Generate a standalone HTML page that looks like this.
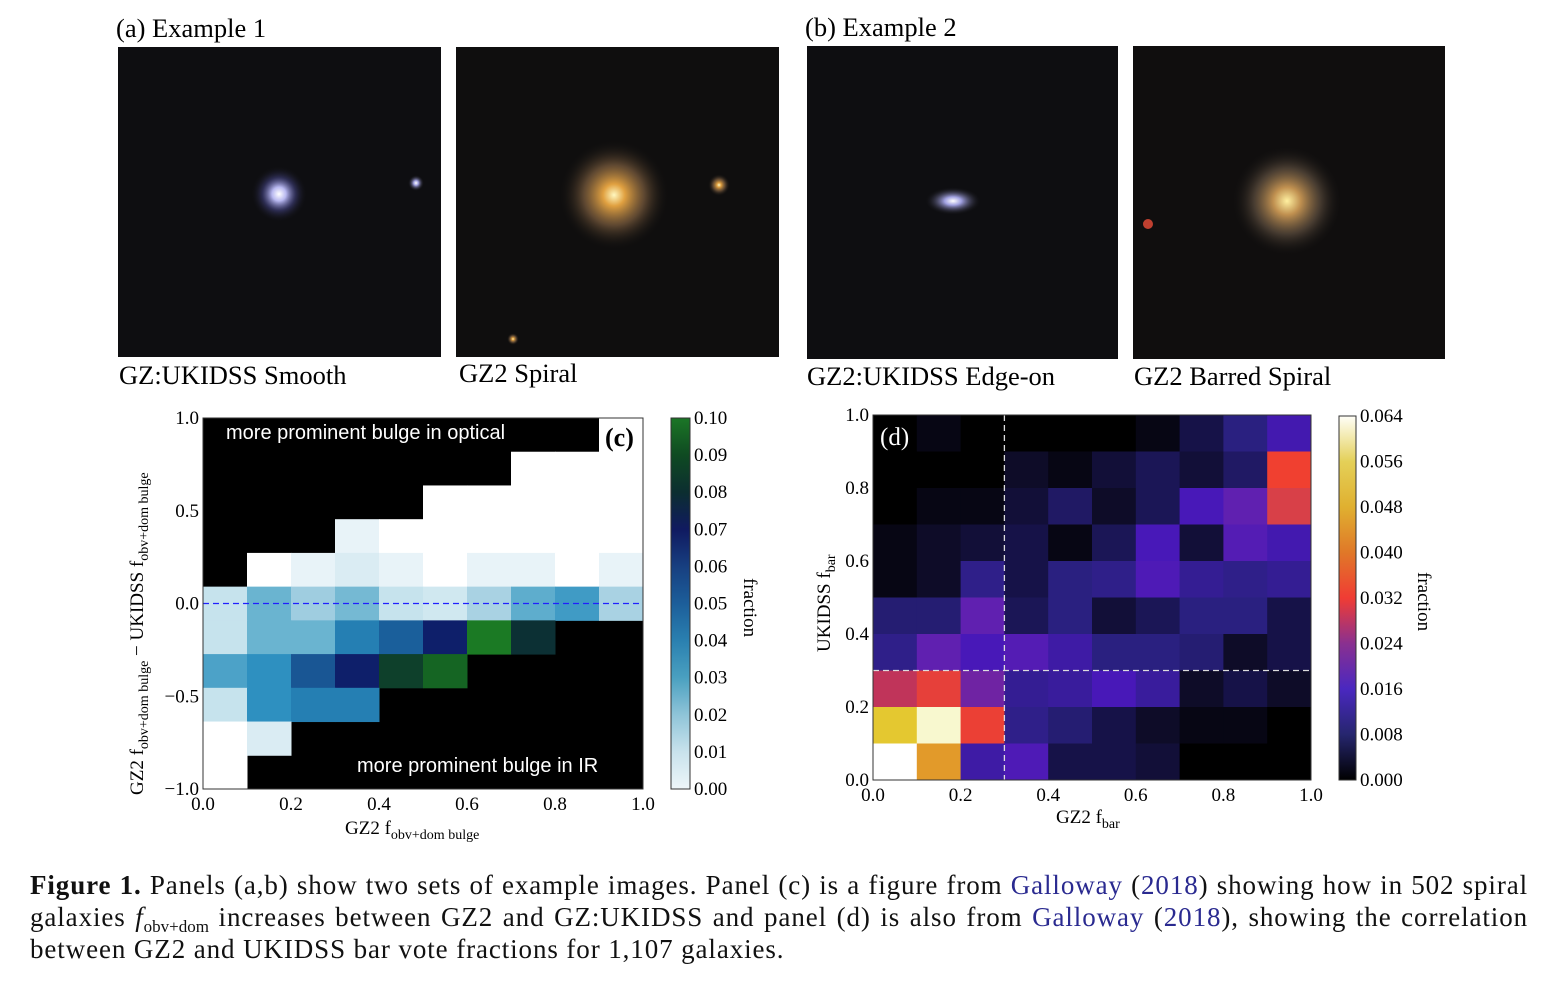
<!DOCTYPE html>
<html><head><meta charset="utf-8">
<style>
body{margin:0;background:#fff;width:1554px;height:1000px;overflow:hidden;font-family:"Liberation Serif",serif;}
svg{position:absolute;left:0;top:0}
.cap{position:absolute;left:30px;top:869px;width:1498px;font-size:27px;letter-spacing:0.9px;line-height:32px;color:#111;}
.cap div{text-align:justify;text-align-last:justify;white-space:nowrap;}
.cap div.last{text-align-last:left}
.cap a{color:#2a2a90;text-decoration:none}
.cap sub{font-size:17px;letter-spacing:0;line-height:0;vertical-align:baseline;position:relative;top:6px}
</style></head><body>
<svg id="fig" width="1554" height="1000" xmlns="http://www.w3.org/2000/svg" font-family="Liberation Serif, serif">
<defs>
<radialGradient id="g1"><stop offset="0" stop-color="#fff"/><stop offset="0.25" stop-color="#b8b8f0"/><stop offset="0.6" stop-color="#4a4a90" stop-opacity="0.5"/><stop offset="1" stop-color="#111" stop-opacity="0"/></radialGradient>
<radialGradient id="g2"><stop offset="0" stop-color="#fff8c0"/><stop offset="0.2" stop-color="#e0a040"/><stop offset="0.55" stop-color="#806040" stop-opacity="0.7"/><stop offset="1" stop-color="#111" stop-opacity="0"/></radialGradient>
<radialGradient id="g3"><stop offset="0" stop-color="#fff"/><stop offset="0.3" stop-color="#a0a0e0"/><stop offset="1" stop-color="#111" stop-opacity="0"/></radialGradient>
<radialGradient id="g4"><stop offset="0" stop-color="#fff0a0"/><stop offset="0.25" stop-color="#c09050"/><stop offset="0.6" stop-color="#605040" stop-opacity="0.7"/><stop offset="1" stop-color="#111" stop-opacity="0"/></radialGradient>
<linearGradient id="cbc" x1="0" y1="1" x2="0" y2="0">
<stop offset="0" stop-color="#eef6f9"/><stop offset="0.1" stop-color="#c8e2ec"/><stop offset="0.2" stop-color="#8fc4d8"/><stop offset="0.3" stop-color="#4aa0c0"/><stop offset="0.4" stop-color="#2a80b0"/><stop offset="0.5" stop-color="#1c5e9a"/><stop offset="0.6" stop-color="#173f80"/><stop offset="0.7" stop-color="#101a60"/><stop offset="0.8" stop-color="#0c2e30"/><stop offset="0.9" stop-color="#0f4a22"/><stop offset="1" stop-color="#1b7626"/></linearGradient>
<linearGradient id="cbd" x1="0" y1="1" x2="0" y2="0">
<stop offset="0" stop-color="#000"/><stop offset="0.125" stop-color="#26266e"/><stop offset="0.25" stop-color="#4a28c0"/><stop offset="0.375" stop-color="#8a3090"/><stop offset="0.5" stop-color="#f03c34"/><stop offset="0.625" stop-color="#e07828"/><stop offset="0.75" stop-color="#e0b030"/><stop offset="0.875" stop-color="#e4d058"/><stop offset="1" stop-color="#fffff8"/></linearGradient>
</defs>
<text x="116" y="37" font-size="26.5">(a) Example 1</text>
<text x="805" y="36" font-size="26.5">(b) Example 2</text>
<g><rect x="118" y="47" width="323" height="310" fill="#0e0e11"/><circle cx="279" cy="194" r="28" fill="url(#g1)"/><circle cx="416" cy="183" r="8" fill="url(#g3)"/></g>
<g><rect x="456" y="47" width="323" height="310" fill="#0f0e0e"/><circle cx="614" cy="195" r="55" fill="url(#g2)"/><circle cx="719" cy="185" r="11" fill="url(#g2)"/><circle cx="513" cy="339" r="6" fill="url(#g2)"/></g>
<g><rect x="807" y="46" width="311" height="313" fill="#0e0e11"/><ellipse cx="953" cy="201" rx="28" ry="14" fill="url(#g3)"/></g>
<g><rect x="1133" y="46" width="312" height="313" fill="#100e0e"/><circle cx="1287" cy="201" r="55" fill="url(#g4)"/><circle cx="1148" cy="224" r="5" fill="#c04030"/></g>
<text x="119" y="384" font-size="26.5">GZ:UKIDSS Smooth</text>
<text x="459" y="382" font-size="26.5">GZ2 Spiral</text>
<text x="807" y="385" font-size="26.5">GZ2:UKIDSS Edge-on</text>
<text x="1134" y="385" font-size="26.5">GZ2 Barred Spiral</text>
<g id="pc"></g>
<g id="pd"></g>
</svg>
<div class="cap">
<div><b>Figure 1.</b> Panels (a,b) show two sets of example images. Panel (c) is a figure from <a>Galloway</a> (<a>2018</a>) showing how in 502 spiral</div>
<div>galaxies <i>f</i><sub>obv+dom</sub> increases between GZ2 and GZ:UKIDSS and panel (d) is also from <a>Galloway</a> (<a>2018</a>), showing the correlation</div>
<div class="last">between GZ2 and UKIDSS bar vote fractions for 1,107 galaxies.</div>
</div>
<script>
// Panel (c) data: rows top (y≈1.0) to bottom (y≈-1.0); -1 = no data (black)
const cRows = [
[-1,-1,-1,-1,-1,-1,-1,-1,-1,0],
[-1,-1,-1,-1,-1,-1,-1,0,0,0],
[-1,-1,-1,-1,-1,0,0,0,0,0],
[-1,-1,-1,0.005,0,0,0,0,0,0],
[-1,0,0.005,0.008,0.005,0,0.005,0.005,0,0.005],
[0.012,0.03,0.02,0.028,0.012,0.01,0.018,0.032,0.037,0.018],
[0.012,0.03,0.03,0.045,0.055,0.07,0.1,0.08,-1,-1],
[0.035,0.04,0.058,0.07,0.085,0.095,-1,-1,-1,-1],
[0.012,0.04,0.045,0.045,-1,-1,-1,-1,-1,-1],
[0,0.008,-1,-1,-1,-1,-1,-1,-1,-1],
[0,-1,-1,-1,-1,-1,-1,-1,-1,-1]
];
const cXTicks = ["0.0","0.2","0.4","0.6","0.8","1.0"];
const cYTicks = ["1.0","0.5","0.0","\u22120.5","\u22121.0"];
const cCbTicks = ["0.00","0.01","0.02","0.03","0.04","0.05","0.06","0.07","0.08","0.09","0.10"];
// Panel (d) data: rows top (UKIDSS 0.9-1.0) to bottom (0-0.1), cols GZ2 0-1
const dRows = [
[0,0.001,0,0,0,0,0.001,0.004,0.008,0.013],
[0,0,0,0.002,0.001,0.003,0.005,0.003,0.006,0.033],
[0,0.001,0.001,0.003,0.006,0.002,0.005,0.014,0.018,0.028],
[0.001,0.002,0.003,0.004,0.001,0.005,0.014,0.003,0.016,0.013],
[0.001,0.002,0.009,0.004,0.008,0.009,0.015,0.010,0.009,0.010],
[0.007,0.007,0.018,0.005,0.008,0.003,0.005,0.008,0.008,0.004],
[0.009,0.018,0.014,0.016,0.012,0.008,0.008,0.007,0.002,0.004],
[0.025,0.031,0.019,0.010,0.011,0.014,0.011,0.002,0.004,0.002],
[0.048,0.060,0.032,0.009,0.007,0.004,0.002,0.001,0.001,0],
[0.064,0.040,0.012,0.015,0.004,0.004,0.003,0,0,0]
];
const dXTicks = ["0.0","0.2","0.4","0.6","0.8","1.0"];
const dYTicks = ["0.0","0.2","0.4","0.6","0.8","1.0"];
const dCbTicks = ["0.000","0.008","0.016","0.024","0.032","0.040","0.048","0.056","0.064"];

const NS="http://www.w3.org/2000/svg";
function mk(p,t,a){const e=document.createElementNS(NS,t);for(const k in a)e.setAttribute(k,a[k]);p.appendChild(e);return e;}
function hex(h){return [1,3,5].map(i=>parseInt(h.substr(i,2),16));}
function cmap(stops,v){if(v<=stops[0][0])return stops[0][1];for(let i=1;i<stops.length;i++){if(v<=stops[i][0]){const t=(v-stops[i-1][0])/(stops[i][0]-stops[i-1][0]);const a=hex(stops[i-1][1]),b=hex(stops[i][1]);return "rgb("+a.map((x,j)=>Math.round(x+(b[j]-x)*t)).join(",")+")";}}return stops[stops.length-1][1];}
const cStops=[[0,"#ffffff"],[0.005,"#e8f3f8"],[0.01,"#d0e8f0"],[0.02,"#9fcde0"],[0.03,"#6ab4d0"],[0.04,"#2e90c0"],[0.05,"#1c6ea6"],[0.06,"#185090"],[0.07,"#0e1f6a"],[0.08,"#0c3034"],[0.09,"#0f5022"],[0.1,"#1b7a24"]];
const dStops=[[0,"#000000"],[0.002,"#0e0c28"],[0.004,"#161248"],[0.008,"#2a2080"],[0.014,"#4818b8"],[0.018,"#6020b0"],[0.024,"#b83060"],[0.028,"#d84048"],[0.033,"#f04030"],[0.040,"#e29a2a"],[0.048,"#e4c830"],[0.056,"#f0f0a0"],[0.064,"#ffffff"]];

// ---- Panel C ----
const pc=document.getElementById('pc');
const cx0=203,cx1=643,cy0=418,cy1=789;
const cX=v=>cx0+(cx1-cx0)*v, cY=v=>cy0+(cy1-cy0)*(1-v)/2;
mk(pc,'rect',{x:cx0,y:cy0,width:cx1-cx0,height:cy1-cy0,fill:'#000'});
const cw=(cx1-cx0)/cRows[0].length, ch=(cy1-cy0)/cRows.length;
cRows.forEach((row,r)=>row.forEach((v,c)=>{if(v<0)return;
 const e=mk(pc,'rect',{x:cx0+c*cw,y:cy0+r*ch,width:cw+0.5,height:ch+0.5,fill:cmap(cStops,v)});
 
 }));
mk(pc,'line',{x1:cx0,x2:cx1,y1:cY(0),y2:cY(0),stroke:'#2020ff','stroke-width':1.3,'stroke-dasharray':'6,4'});
mk(pc,'rect',{x:cx0,y:cy0,width:cx1-cx0,height:cy1-cy0,fill:'none',stroke:'#333'});
let t=mk(pc,'text',{x:226,y:439,'font-size':20,fill:'#fff','font-family':'Liberation Sans, sans-serif'});t.textContent='more prominent bulge in optical';
t=mk(pc,'text',{x:357,y:772,'font-size':20,fill:'#fff','font-family':'Liberation Sans, sans-serif'});t.textContent='more prominent bulge in IR';
t=mk(pc,'text',{x:605,y:446,'font-size':26,fill:'#000','font-weight':'bold'});t.textContent='(c)';
cXTicks.forEach((s,i)=>{const x=cX(i/5);t=mk(pc,'text',{x:x,y:810,'font-size':19,'text-anchor':'middle'});t.textContent=s;
 
 });
cYTicks.forEach((s,i)=>{const y=cY(1-i*0.5);t=mk(pc,'text',{x:199,y:y+6,'font-size':19,'text-anchor':'end'});t.textContent=s;
 
 });
t=mk(pc,'text',{x:345,y:834,'font-size':19});t.innerHTML='GZ2 f<tspan font-size="14" dy="5">obv+dom bulge</tspan>';

t=mk(pc,'text',{transform:'translate(143,795) rotate(-90)','font-size':19});t.innerHTML='GZ2 f<tspan font-size="14" dy="5">obv+dom bulge</tspan><tspan dy="-5"> \u2212 UKIDSS f</tspan><tspan font-size="14" dy="5">obv+dom bulge</tspan>';

mk(pc,'rect',{x:671,y:418,width:19,height:371,fill:'url(#cbc)',stroke:'#333'});
cCbTicks.forEach((s,i)=>{const y=789-371*i/10;t=mk(pc,'text',{x:694,y:y+6,'font-size':19});t.textContent=s;
 
 });
t=mk(pc,'text',{transform:'translate(744,578) rotate(90)','font-size':19});t.textContent='fraction';

// ---- Panel D ----
const pd=document.getElementById('pd');
const dx0=873,dx1=1311,dy0=415,dy1=780;
const dX=v=>dx0+(dx1-dx0)*v, dY=v=>dy1-(dy1-dy0)*v;
const dw=(dx1-dx0)/10, dh=(dy1-dy0)/10;
dRows.forEach((row,r)=>row.forEach((v,c)=>{
 const e=mk(pd,'rect',{x:dx0+c*dw,y:dy0+r*dh,width:dw+0.5,height:dh+0.5,fill:cmap(dStops,v)});
 
 }));
mk(pd,'line',{x1:dX(0.3),x2:dX(0.3),y1:dy0,y2:dy1,stroke:'#ddd','stroke-width':1.3,'stroke-dasharray':'6,4'});
mk(pd,'line',{x1:dx0,x2:dx1,y1:dY(0.3),y2:dY(0.3),stroke:'#ddd','stroke-width':1.3,'stroke-dasharray':'6,4'});
mk(pd,'rect',{x:dx0,y:dy0,width:dx1-dx0,height:dy1-dy0,fill:'none',stroke:'#333'});
t=mk(pd,'text',{x:880,y:445,'font-size':25,fill:'#fff'});t.textContent='(d)';
dXTicks.forEach((s,i)=>{const x=dX(i/5);t=mk(pd,'text',{x:x,y:801,'font-size':19,'text-anchor':'middle'});t.textContent=s;
 
 });
dYTicks.forEach((s,i)=>{const y=dY(i/5);t=mk(pd,'text',{x:869,y:y+6,'font-size':19,'text-anchor':'end'});t.textContent=s;
 
 });
t=mk(pd,'text',{x:1056,y:823,'font-size':19});t.innerHTML='GZ2 f<tspan font-size="14" dy="5">bar</tspan>';

t=mk(pd,'text',{transform:'translate(830,652) rotate(-90)','font-size':19});t.innerHTML='UKIDSS f<tspan font-size="14" dy="5">bar</tspan>';

mk(pd,'rect',{x:1339,y:416,width:17,height:364,fill:'url(#cbd)',stroke:'#333'});
dCbTicks.forEach((s,i)=>{const y=780-364*i/8;t=mk(pd,'text',{x:1360,y:y+6,'font-size':19});t.textContent=s;
 
 });
t=mk(pd,'text',{transform:'translate(1418,572) rotate(90)','font-size':19});t.textContent='fraction';
</script>
</body></html>
